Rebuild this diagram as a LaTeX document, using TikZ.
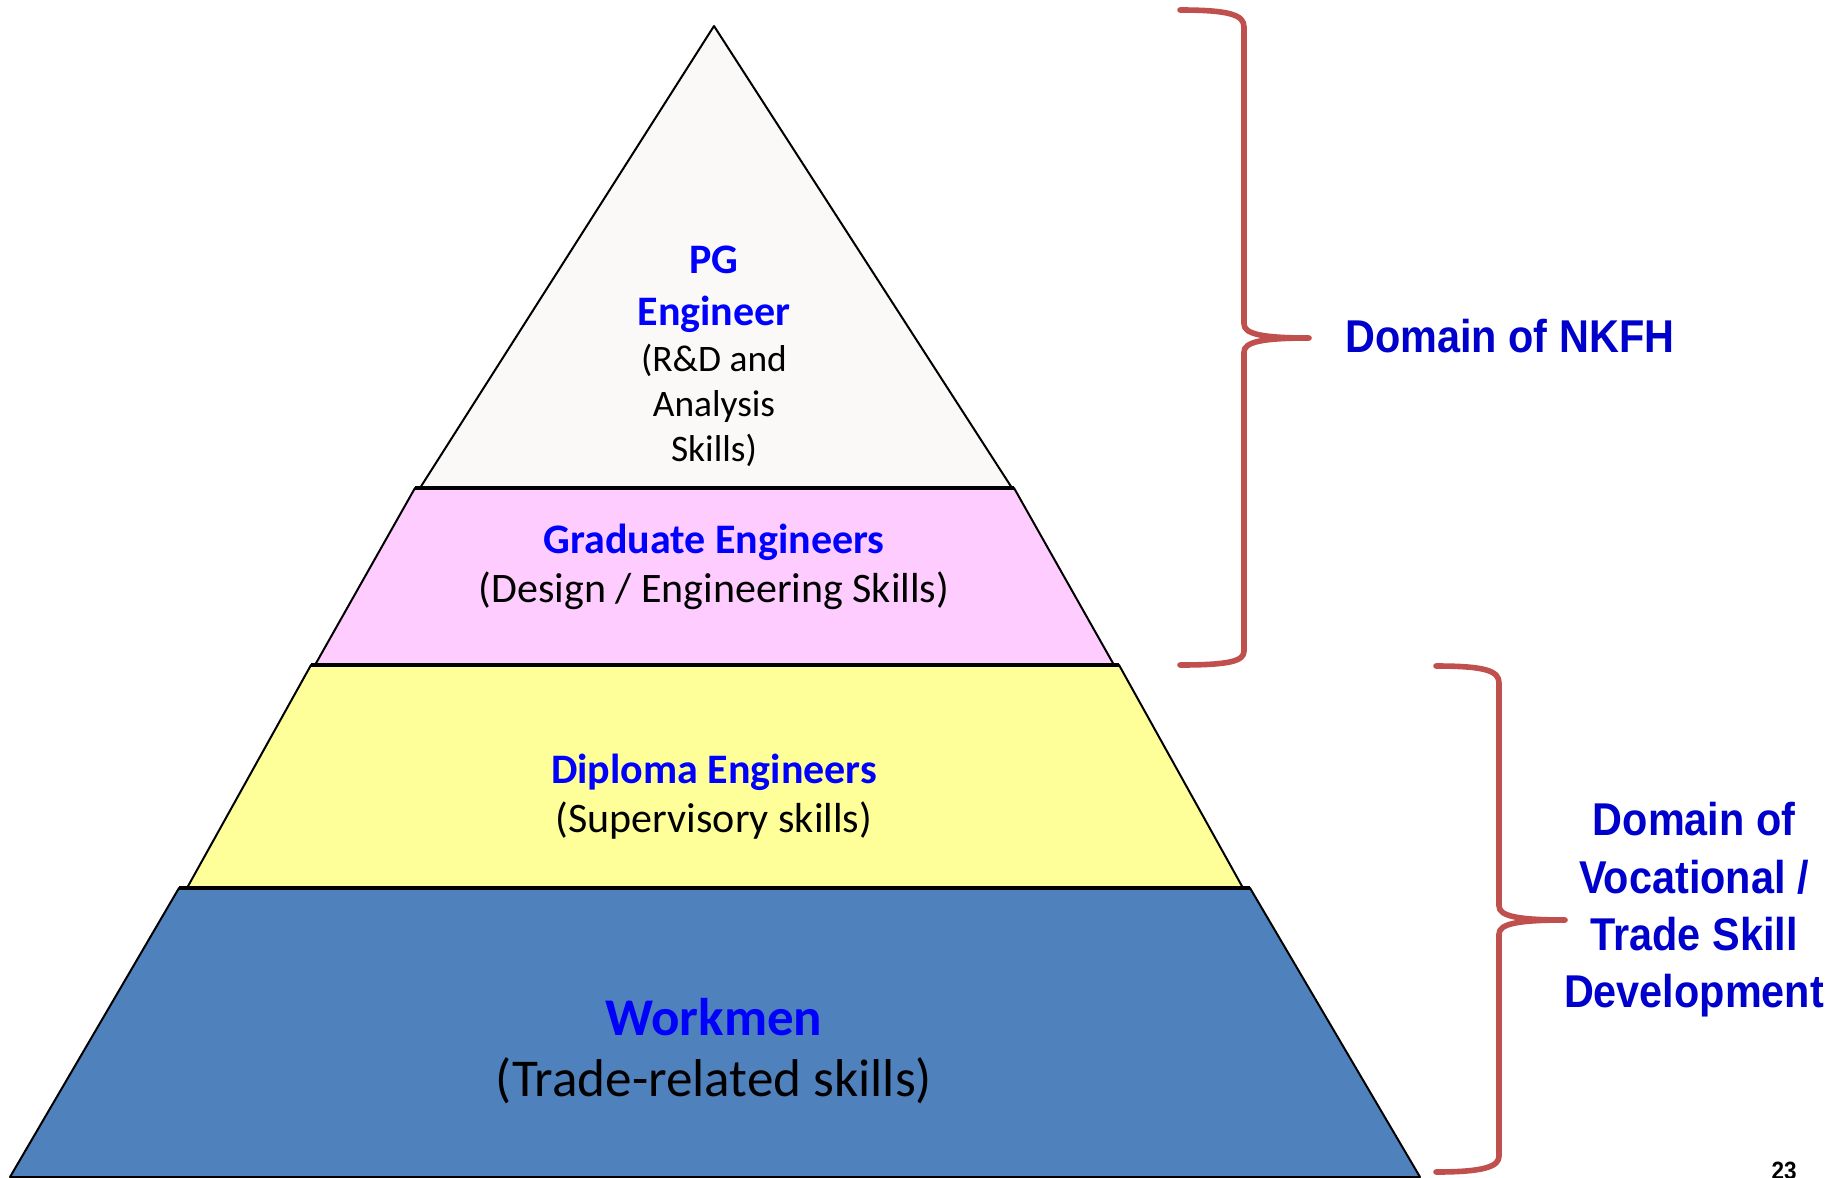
\documentclass[tikz,border=0pt]{standalone}
\usepackage{fontspec}
\setmainfont{Carlito}
\newfontfamily\domainfont{Liberation Sans}[FakeStretch=0.9]
\usepackage{tikz}
\tikzset{>=latex}
\definecolor{apexfill}{RGB}{250,249,247}
\definecolor{gradfill}{RGB}{255,204,255}
\definecolor{diplfill}{RGB}{255,255,153}
\definecolor{workfill}{RGB}{79,129,189}
\definecolor{bracered}{RGB}{192,80,77}
\definecolor{titleblue}{RGB}{0,0,255}
\definecolor{domainblue}{RGB}{0,0,204}
\tikzset{
  layer/.style={draw=black, line width=1pt, line join=round},
  rim/.style={draw=black, line width=1.6pt},
  brace/.style={draw=bracered, line width=2.8pt, line cap=round, line join=round},
  tiertitle/.style={text=titleblue, font=\fontsize{21}{25}\selectfont\bfseries, anchor=base, inner sep=0pt},
  tiersub/.style={text=black, font=\fontsize{21}{25}\selectfont, anchor=base, inner sep=0pt},
  apexsub/.style={tiersub, font=\fontsize{18.7}{22}\selectfont},
  domainlabel/.style={text=domainblue, font=\domainfont\fontsize{23}{28}\selectfont\bfseries, anchor=base, inner sep=0pt},
}

\begin{document}
\begin{tikzpicture}[x=0.5pt, y=-0.5pt]
    \useasboundingbox (0,0) rectangle (1845,1177);
    \clip (0,0) rectangle (1845,1177);
    % pyramid layers
    \draw [layer, fill=apexfill] (714,26) -- (1012,488) -- (420,488) -- cycle;
    \draw [layer, fill=gradfill] (415,488) -- (1014,488) -- (1114,665) -- (315,665) -- cycle;
    \draw [layer, fill=diplfill] (311,665) -- (1119,665) -- (1243,888) -- (187,888) -- cycle;
    \draw [layer, fill=workfill] (179,888) -- (1250,888) -- (1420,1177) -- (10,1177) -- cycle;
    \draw [rim] (415,488) -- (1014,488);
    \draw [rim] (311,665) -- (1119,665);
    \draw [rim] (179,888) -- (1250,888);

    \node [tiertitle] (pg) at (714,273) {PG};
    \node [tiertitle] (pgeng) at (714,325) {Engineer};
    \node [apexsub] (pgsuba) at (714,371) {(R\&D and};
    \node [apexsub] (pgsubb) at (714,416) {Analysis};
    \node [apexsub] (pgsubc) at (714,461) {Skills)};

    \node [tiertitle] (grad) at (714,553) {Graduate Engineers};
    \node [tiersub] (gradsub) at (714,602) {(Design / Engineering Skills)};
    \node [tiertitle] (dipl) at (714,783) {Diploma Engineers};
    \node [tiersub] (diplsub) at (714,832) {(Supervisory skills)};
    \node [tiertitle, font=\fontsize{26.5}{30}\selectfont\bfseries] (work) at (714,1035) {Workmen};
    \node [tiersub, font=\fontsize{26.6}{30}\selectfont] (worksub) at (714,1096) {(Trade-related skills)};

    % braces
    \coordinate (nkfhtip) at (1309,338);
    \coordinate (voctip) at (1565,920);
    \draw [brace] (1180,10) .. controls (1230,10) and (1244,15) .. (1244,27)
      -- (1244,324) .. controls (1244,334) and (1262,338) .. (nkfhtip)
      .. controls (1262,338) and (1244,342) .. (1244,352)
      -- (1244,651) .. controls (1244,661) and (1230,665) .. (1180,665);
    \draw [brace] (1436,666) .. controls (1486,666) and (1499,671) .. (1499,683)
      -- (1499,906) .. controls (1499,916) and (1517,920) .. (voctip)
      .. controls (1517,920) and (1499,924) .. (1499,934)
      -- (1499,1156) .. controls (1499,1166) and (1486,1172) .. (1436,1172);

    \node [domainlabel, anchor=base west] (nkfh) at (1345,352) {Domain of NKFH};
    \node [domainlabel] (voca) at (1694,835) {Domain of};
    \node [domainlabel] (vocb) at (1694,893) {Vocational /};
    \node [domainlabel] (vocc) at (1694,950) {Trade Skill};
    \node [domainlabel] (vocd) at (1694,1007) {Development};

    \node [font=\domainfont\fontsize{12.5}{15}\selectfont\bfseries, anchor=north, inner sep=0pt] (pagenum) at (1784,1162) {23};
  \end{tikzpicture}
\end{document}
